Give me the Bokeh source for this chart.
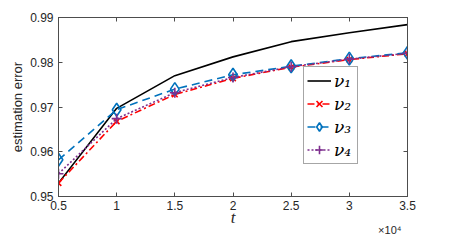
from bokeh.plotting import figure
from bokeh.models import Legend, LegendItem, Title, LinearAxis, FixedTicker, Range1d
from bokeh.embed import file_html
from bokeh.resources import INLINE

t = [5000, 10000, 15000, 20000, 25000, 30000, 35000]
nu1 = [0.9530, 0.9697, 0.9770, 0.9812, 0.9846, 0.9866, 0.9884]
nu2 = [0.9530, 0.9668, 0.9728, 0.9764, 0.9789, 0.9806, 0.9819]
nu3 = [0.9582, 0.9694, 0.9740, 0.9772, 0.9791, 0.9808, 0.9821]
nu4 = [0.9551, 0.9674, 0.9732, 0.9766, 0.9790, 0.9807, 0.9820]
x_ticks = [5000, 10000, 15000, 20000, 25000, 30000, 35000]
x_tick_labels = ["0.5", "1", "1.5", "2", "2.5", "3", "3.5"]
y_ticks = [0.95, 0.96, 0.97, 0.98, 0.99]
y_tick_labels = ["0.95", "0.96", "0.97", "0.98", "0.99"]
series_names = ["ν₁", "ν₂", "ν₃", "ν₄"]

TICK_FONT = "Liberation Sans"
AX_COL = "#4d4d4d"
TXT_COL = "#262626"

p = figure(width=434, height=235, output_backend="svg", toolbar_location=None,
           x_range=Range1d(5000, 35000), y_range=Range1d(0.95, 0.99),
           min_border_left=58, min_border_right=27, min_border_top=17, min_border_bottom=39,
           x_axis_type=None, y_axis_type=None)
p.outline_line_color = AX_COL
p.outline_line_width = 1
p.background_fill_color = "white"
p.border_fill_color = "white"

def style_axis(ax, labels, show_labels=True):
    ax.major_tick_in = 4
    ax.major_tick_out = 0
    ax.minor_tick_in = 0
    ax.minor_tick_out = 0
    ax.axis_line_color = AX_COL
    ax.major_tick_line_color = AX_COL
    ax.major_label_text_font = TICK_FONT
    ax.major_label_text_color = TXT_COL
    ax.major_label_text_font_size = "12px"
    if show_labels:
        ax.major_label_overrides = labels
        ax.major_label_standoff = 5
    else:
        ax.major_label_overrides = {k: "" for k in labels}
        ax.major_label_standoff = 0

xlab = {tk: lb for tk, lb in zip(x_ticks, x_tick_labels)}
ylab = {tk: lb for tk, lb in zip(y_ticks, y_tick_labels)}

xb = LinearAxis(ticker=FixedTicker(ticks=x_ticks), axis_label="t")
style_axis(xb, xlab)
xb.major_label_standoff = 4
xb.axis_label_text_font = "Liberation Serif"
xb.axis_label_text_font_style = "italic"
xb.axis_label_text_font_size = "17px"
xb.axis_label_text_color = TXT_COL
xb.axis_label_standoff = -5
p.add_layout(xb, "below")

mult = Title(text="×10⁴", align="right", vertical_align="top", offset=6, standoff=-12,
             text_font=TICK_FONT, text_font_size="11px", text_font_style="normal",
             text_color=TXT_COL)
p.add_layout(mult, "below")

xa = LinearAxis(ticker=FixedTicker(ticks=x_ticks))
style_axis(xa, xlab, False)
p.add_layout(xa, "above")
yl = LinearAxis(ticker=FixedTicker(ticks=y_ticks), axis_label="estimation error")
style_axis(yl, ylab)
yl.axis_label_text_font = TICK_FONT
yl.axis_label_text_font_style = "normal"
yl.axis_label_text_font_size = "13px"
yl.axis_label_text_color = TXT_COL
yl.axis_label_standoff = 2
p.add_layout(yl, "left")
yr = LinearAxis(ticker=FixedTicker(ticks=y_ticks))
style_axis(yr, ylab, False)
p.add_layout(yr, "right")

p.xgrid.ticker = FixedTicker(ticks=x_ticks)
p.ygrid.ticker = FixedTicker(ticks=y_ticks)
p.xgrid.grid_line_color = "#e6e6e6"
p.ygrid.grid_line_color = "#e6e6e6"

lw = 1.6
r1 = p.line(t, nu1, line_color="black", line_width=lw)

r2 = p.line(t, nu2, line_color="#ff0000", line_width=lw, line_dash="7 3 2 3")
m2 = p.scatter(t, nu2, marker="x", size=8, line_color="#ff0000", line_width=1.6)

r3 = p.line(t, nu3, line_color="#0072bd", line_width=lw, line_dash="8 5")
m3 = p.scatter(t, nu3, marker="diamond", size=13, line_color="#0072bd", fill_alpha=0, line_width=1.6)

r4 = p.line(t, nu4, line_color="#7e2f8e", line_width=lw, line_dash="2 2")
m4 = p.scatter(t, nu4, marker="cross", size=10, line_color="#7e2f8e", line_width=1.6)

legend = Legend(items=[
    LegendItem(label=series_names[0], renderers=[r1]),
    LegendItem(label=series_names[1], renderers=[r2, m2]),
    LegendItem(label=series_names[2], renderers=[r3, m3]),
    LegendItem(label=series_names[3], renderers=[r4, m4]),
], location=(245, 32))
legend.label_text_font = "DejaVu Serif"
legend.label_text_font_style = "italic"
legend.label_text_font_size = "17px"
legend.label_text_color = "black"
legend.border_line_color = AX_COL
legend.border_line_width = 1
legend.background_fill_color = "white"
legend.background_fill_alpha = 1
legend.padding = 3
legend.margin = 0
legend.spacing = 2
legend.glyph_width = 24
legend.glyph_height = 21
legend.label_height = 21
legend.label_standoff = 3
p.add_layout(legend)

open("out.html", "w").write(file_html(p, INLINE))
